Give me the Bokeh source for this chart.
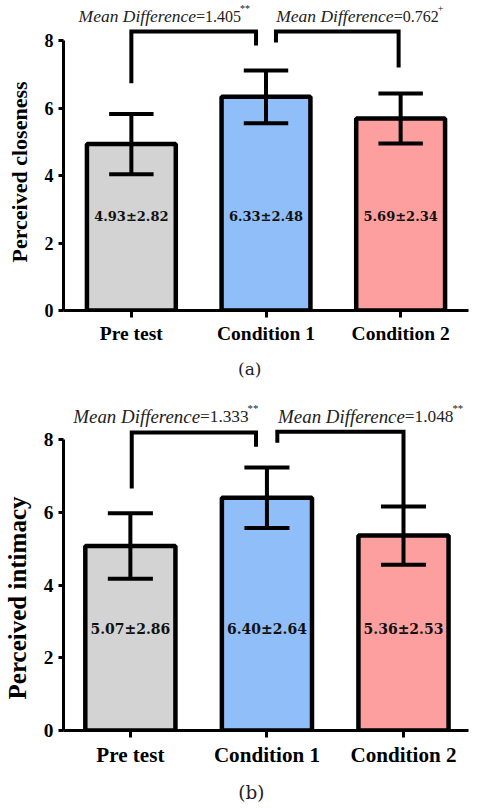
from bokeh.plotting import figure
from bokeh.layouts import column
from bokeh.models import FixedTicker, ColumnDataSource, Range1d
from bokeh.core.properties import value
from bokeh.embed import file_html
from bokeh.resources import INLINE

categories = ["Pre test", "Condition 1", "Condition 2"]
positions = [1, 2, 3]
bar_colors = ["#d3d3d3", "#90bef8", "#fe9f9f"]

closeness_mean = [4.93, 6.33, 5.69]
closeness_sd = [2.82, 2.48, 2.34]
closeness_err = [0.89, 0.78, 0.74]

intimacy_mean = [5.07, 6.40, 5.36]
intimacy_sd = [2.86, 2.64, 2.53]
intimacy_err = [0.90, 0.83, 0.80]

y_ticks = [0, 2, 4, 6, 8]

# comparison brackets: left x, right x, left-leg end, right-leg end, top
closeness_br_left = [1.0, 2.074]
closeness_br_right = [1.926, 2.985]
closeness_br_lbot = [6.73, 7.94]
closeness_br_rbot = [7.85, 7.20]
closeness_br_top = [8.27, 8.27]
closeness_diff = ["=1.405", "=0.762"]
closeness_sig = ["**", "+"]
closeness_note_x = [1.48, 2.948]
closeness_note_y = [8.72, 8.72]

intimacy_br_left = [1.01, 2.076]
intimacy_br_right = [1.92, 3.0]
intimacy_br_lbot = [6.65, 7.91]
intimacy_br_rbot = [7.80, 6.12]
intimacy_br_top = [8.19, 8.21]
intimacy_diff = ["=1.333", "=1.048"]
intimacy_sig = ["**", "**"]
intimacy_note_x = [1.51, 3.01]
intimacy_note_y = [8.64, 8.64]

SERIF = "Liberation Serif"
NBSP = "\u00a0"


def make_panel(means, sds, errs, ylabel, tag, br, notes, xr, yend, width, height,
               mb_left, mb_right, mb_bottom, sc, ylab_size, ylab_pad, tag_pad):
    p = figure(width=width, height=height, output_backend="svg", toolbar_location=None,
               x_range=Range1d(*xr), y_range=Range1d(0, yend),
               min_border_left=mb_left, min_border_right=mb_right,
               min_border_top=0, min_border_bottom=mb_bottom)
    p.xgrid.visible = False
    p.ygrid.visible = False
    p.outline_line_color = None
    p.background_fill_color = "white"

    src = ColumnDataSource(dict(
        x=positions, top=means, color=bar_colors,
        lo=[m - e for m, e in zip(means, errs)],
        hi=[m + e for m, e in zip(means, errs)],
        cl=[x - 0.165 for x in positions],
        cr=[x + 0.165 for x in positions],
        ly=[2.8] * len(positions),
        lab=[f"{m:.2f}±{s:.2f}" for m, s in zip(means, sds)],
    ))
    p.vbar(x="x", top="top", bottom=0, width=0.66, fill_color="color",
           line_color="black", line_width=4.5, source=src)
    p.segment(x0="x", x1="x", y0="lo", y1="hi", line_color="black", line_width=4, source=src)
    p.segment(x0="cl", x1="cr", y0="hi", y1="hi", line_color="black", line_width=4, source=src)
    p.segment(x0="cl", x1="cr", y0="lo", y1="lo", line_color="black", line_width=4, source=src)
    p.text(x="x", y="ly", text="lab", source=src, text_align="center", text_baseline="middle",
           text_font=value("DejaVu Serif"), text_font_style="bold",
           text_font_size=f"{13 * sc:.1f}px", text_color="#111111")

    left, right, lbot, rbot, top = br
    xs = [[l, l, r, r] for l, r in zip(left, right)]
    ys = [[a, t, t, b] for a, t, b in zip(lbot, top, rbot)]
    p.multi_line(xs=xs, ys=ys, line_color="black", line_width=4, line_join="miter")

    diff, sig, nx, ny = notes
    nsrc = ColumnDataSource(dict(x=nx, y=ny, diff=diff, sig=sig,
                                 md=["Mean Difference"] * len(nx)))
    p.text(x="x", y="y", text="md", source=nsrc, text_align="right", text_baseline="alphabetic",
           text_font=value(SERIF), text_font_style="italic",
           text_font_size=f"{17.5 * sc:.1f}px", text_color="#222222")
    p.text(x="x", y="y", text="diff", source=nsrc, text_align="left", text_baseline="alphabetic",
           text_font=value(SERIF), text_font_size=f"{16 * sc:.1f}px", text_color="#222222")
    p.text(x="x", y="y", text="sig", source=nsrc, text_align="left", text_baseline="alphabetic",
           x_offset=44 * sc, y_offset=-8 * sc,
           text_font=value(SERIF), text_font_size=f"{10 * sc:.1f}px", text_color="#222222")

    ya = p.yaxis[0]
    ya.ticker = FixedTicker(ticks=y_ticks)
    ya.bounds = (0, 8)
    ya.axis_line_width = 3
    ya.major_tick_line_width = 3
    ya.major_tick_out = 5
    ya.major_tick_in = 0
    ya.minor_tick_line_color = None
    ya.major_label_standoff = 5
    ya.major_label_text_font = SERIF
    ya.major_label_text_font_style = "bold"
    ya.major_label_text_font_size = f"{18 * sc:.1f}px"
    ya.major_label_text_color = "black"
    ya.axis_label = ylabel + NBSP * ylab_pad
    ya.axis_label_text_font = SERIF
    ya.axis_label_text_font_style = "bold"
    ya.axis_label_text_font_size = ylab_size
    ya.axis_label_text_color = "black"
    ya.axis_label_standoff = 10

    xa = p.xaxis[0]
    xa.ticker = FixedTicker(ticks=positions)
    xa.major_label_overrides = {pos: c for pos, c in zip(positions, categories)}
    xa.axis_line_width = 3
    xa.major_tick_line_width = 3
    xa.major_tick_out = 7
    xa.major_tick_in = 0
    xa.minor_tick_line_color = None
    xa.major_label_standoff = 5
    xa.major_label_text_font = SERIF
    xa.major_label_text_font_style = "bold"
    xa.major_label_text_font_size = f"{19.5 * sc:.1f}px"
    xa.major_label_text_color = "black"
    xa.axis_label = tag + NBSP * tag_pad
    xa.axis_label_text_font = "DejaVu Serif"
    xa.axis_label_text_font_style = "normal"
    xa.axis_label_text_font_size = f"{17 * sc:.1f}px"
    xa.axis_label_text_color = "#222222"
    xa.axis_label_standoff = 12
    return p


pa = make_panel(closeness_mean, closeness_sd, closeness_err, "Perceived closeness", "(a)",
                (closeness_br_left, closeness_br_right, closeness_br_lbot, closeness_br_rbot, closeness_br_top),
                (closeness_diff, closeness_sig, closeness_note_x, closeness_note_y),
                (0.496, 3.504), 310 / 33.75, 492, 390, 62, 24, 80, 1.0, "22px", 6, 6)
pb = make_panel(intimacy_mean, intimacy_sd, intimacy_err, "Perceived intimacy", "(b)",
                (intimacy_br_left, intimacy_br_right, intimacy_br_lbot, intimacy_br_rbot, intimacy_br_top),
                (intimacy_diff, intimacy_sig, intimacy_note_x, intimacy_note_y),
                (0.5103, 3.476), 340 / 36.375, 492, 418, 62, 0, 78, 1.08, "25px", 12, 5)

layout = column(pa, pb, spacing=0)
open("out.html", "w").write(file_html(layout, INLINE))
